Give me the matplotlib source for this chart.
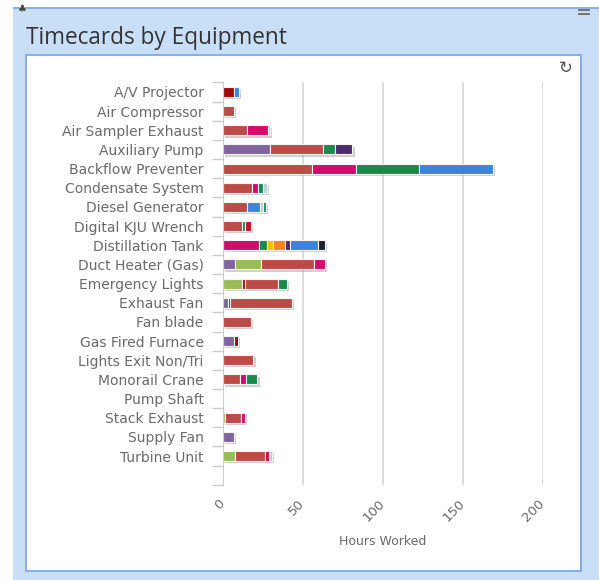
import matplotlib
matplotlib.use('Agg')
import matplotlib.pyplot as plt
import matplotlib.patheffects as pe
from matplotlib.patches import Rectangle
import numpy as np

# equipment rows (last row is blank in the original chart)
categories = ["A/V Projector", "Air Compressor", "Air Sampler Exhaust", "Auxiliary Pump",
              "Backflow Preventer", "Condensate System", "Diesel Generator", "Digital KJU Wrench",
              "Distillation Tank", "Duct Heater (Gas)", "Emergency Lights", "Exhaust Fan",
              "Fan blade", "Gas Fired Furnace", "Lights Exit Non/Tri", "Monorail Crane",
              "Pump Shaft", "Stack Exhaust", "Supply Fan", "Turbine Unit", ""]

# hours per stacked segment (one list per worker series)
purple     = [0, 0, 0, 29.5, 0, 0, 0, 0, 0, 7.5, 0, 3, 0, 7, 0, 0, 0, 0, 7, 0, 0]
olive      = [0, 0, 0, 0, 0, 0, 0, 0, 0, 16, 12, 0, 0, 0, 0, 0, 0, 1.5, 0, 7.5, 0]
darkred    = [7, 0, 0, 0, 0, 0, 0, 0, 0, 0, 1.5, 1.5, 0, 2.5, 0, 0, 0, 0, 0, 0, 0]
red        = [0, 7, 15, 33, 56, 18, 15, 12, 0, 33.5, 21, 38.5, 17.5, 0, 19, 10.5, 0, 10, 0, 19, 0]
magenta    = [0, 0, 13, 0, 27, 4, 0, 0, 22.5, 7, 0, 0, 0, 0, 0, 4, 0, 2, 0, 0, 0]
green      = [0, 0, 0, 7.5, 39.5, 3, 0, 1.5, 4.8, 0, 5.5, 0, 0, 0, 0, 7, 0, 0, 0, 0, 0]
brightred  = [0, 0, 0, 0, 0, 0, 0, 4, 0, 0, 0, 0, 0, 0, 0, 0, 0, 0, 0, 2, 0]
yellow     = [0, 0, 0, 0, 0, 0, 0, 0, 4.1, 0, 0, 0, 0, 0, 0, 0, 0, 0, 0, 0, 0]
orange     = [0, 0, 0, 0, 0, 0, 0, 0, 7.3, 0, 0, 0, 0, 0, 0, 0, 0, 0, 0, 0, 0]
darkpurple = [0, 0, 0, 11, 0, 0, 0, 0, 3.5, 0, 0, 0, 0, 0, 0, 0, 0, 0, 0, 0, 0]
blue       = [3, 0, 0, 0, 46.5, 0, 8, 0, 17, 0, 0, 0, 0, 0, 0, 0, 0, 0, 0, 0, 0]
navy       = [0, 0, 0, 0, 0, 0, 0, 0, 4.8, 0, 0, 0, 0, 0, 0, 0, 0, 0, 0, 0, 0]
lightgray  = [0, 0, 1.5, 0, 0, 2.5, 2, 0, 0, 0, 0, 0, 0, 0, 0, 0, 0, 0, 0, 2, 0]
teal       = [0, 0, 0, 0, 0, 0, 2, 0, 0, 0, 0, 0, 0, 0, 0, 0, 0, 0, 0, 0, 0]

series = [purple, olive, darkred, red, magenta, green, brightred, yellow, orange,
          darkpurple, blue, navy, lightgray, teal]
colors = ["#8064A2", "#9BBB59", "#9E0B0B", "#BC4A47", "#D20C6C", "#198A4C", "#C8102E",
          "#F2C200", "#F5821F", "#4B2A6E", "#3C84DB", "#1C2333", "#B9CDE0", "#2A8C5A"]

fig = plt.figure(figsize=(5.99, 5.8), dpi=100)
W, H = 599.0, 580.0

def px_rect(x0, y0, x1, y1, **kw):
  # rectangle given in pixel coords from top-left
  fig.patches.append(Rectangle((x0/W, 1-y1/H), (x1-x0)/W, (y1-y0)/H,
                               transform=fig.transFigure, figure=fig, zorder=-10, **kw))

# panel background and frames
px_rect(13, 8, 599, 580, facecolor="#C9DFF8", edgecolor="none")
px_rect(13, 7.5, 599, 9, facecolor="#86B3EC", edgecolor="none")
px_rect(26, 55, 581, 571, facecolor="white", edgecolor="#86B0EA", linewidth=1.5)
# small icons in the panel header
px_rect(578, 9.5, 590, 11, facecolor="#777777", edgecolor="none")
px_rect(578, 13, 590, 14.5, facecolor="#777777", edgecolor="none")

fig.text(26/W, 1-38/H, "Timecards by Equipment", fontsize=16.3, family="Open Sans",
         color="#333333", va="center", ha="left")
fig.text(566/W, 1-68/H, "\u21bb", fontsize=12, color="#555555", ha="center", va="center")
fig.text(22/W, 1-9/H, "\u2663", fontsize=7, color="#444444", ha="center", va="center")

ax = fig.add_axes([223/W, 1-484.8/H, (542.5-223)/W, (484.8-82.4)/H])
ax.set_facecolor("none")
ax.set_zorder(5)

y = np.arange(len(categories))
left = np.zeros(len(categories))
shadow = [pe.SimplePatchShadow(offset=(1.6, -1.6), shadow_rgbFace="#777777", alpha=0.35), pe.Normal()]
for vals, c in zip(series, colors):
  vals = np.array(vals, dtype=float)
  bars = ax.barh(y, vals, left=left, height=0.52, color=c, edgecolor="#f4f4f4",
                 linewidth=0.8, zorder=3)
  for b, v in zip(bars, vals):
    if v > 0:
      b.set_path_effects(shadow)
    else:
      b.set_visible(False)
  left = left + vals

ax.set_xlim(0, 200)
ax.set_ylim(len(categories) - 0.5, -0.5)
ax.set_xticks([0, 50, 100, 150, 200])
ax.set_yticks(y)
ax.set_yticklabels(categories)
ax.set_yticks(np.arange(len(categories) + 1) - 0.5, minor=True)
ax.tick_params(axis="y", which="major", length=0, pad=14, labelsize=10, labelcolor="#6a6a6a")
ax.tick_params(axis="y", which="minor", length=8, color="#cccccc", width=1)
ax.tick_params(axis="x", length=0, pad=12, labelsize=9.5, labelcolor="#6a6a6a")
for lab in ax.get_xticklabels():
  lab.set_rotation(45)
  lab.set_ha("right")
  lab.set_va("center")
  lab.set_rotation_mode("anchor")

ax.grid(axis="x", color="#dddddd", linewidth=1.4, zorder=0)
for s in ["top", "right", "bottom"]:
  ax.spines[s].set_visible(False)
ax.spines["left"].set_color("#cccccc")
ax.spines["left"].set_zorder(4)

ax.set_xlabel("Hours Worked", fontsize=9, color="#6a6a6a", labelpad=8)

plt.savefig("out.png", dpi=100)
plt.close()
